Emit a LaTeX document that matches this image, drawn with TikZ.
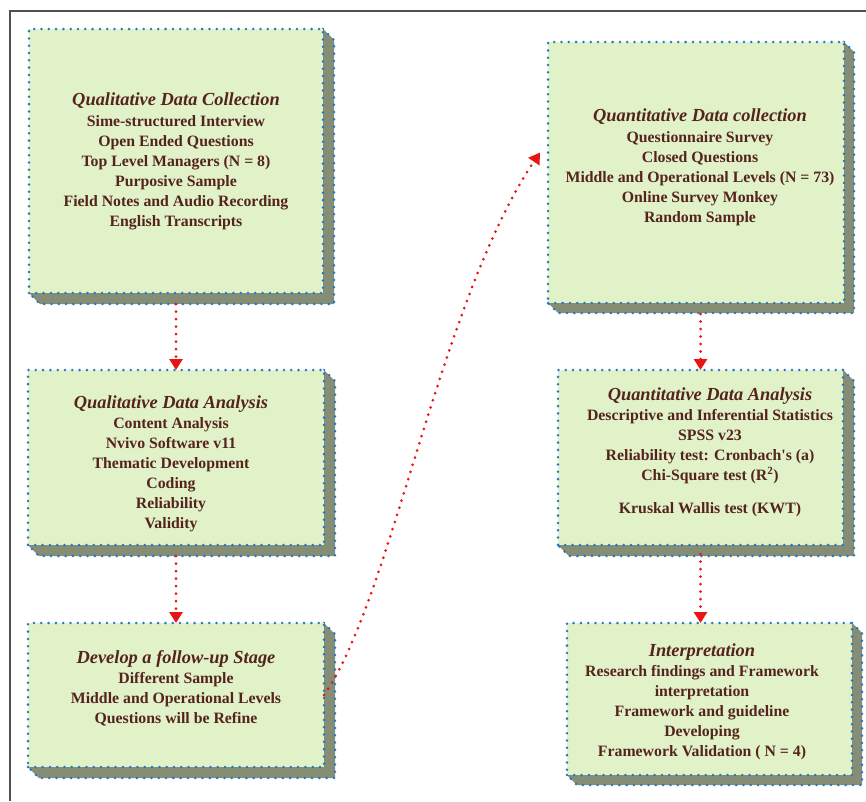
\documentclass[tikz,border=0pt]{standalone}
\usepackage{fontspec}
\setmainfont{Liberation Serif}
\usetikzlibrary{arrows.meta,backgrounds}
\definecolor{boxfill}{RGB}{225,242,201}
\definecolor{shadowc}{RGB}{134,141,117}
\definecolor{dotblue}{RGB}{30,120,200}
\definecolor{txt}{RGB}{85,35,30}
\definecolor{arr}{RGB}{235,20,20}
\definecolor{framec}{RGB}{80,80,80}
\tikzset{
 panel/.style={draw=dotblue, fill=boxfill, line width=2.8pt, dash pattern=on 0pt off 7.3pt, line cap=round, inner sep=0pt, outer sep=0pt},
 shade3d/.style={fill=shadowc, draw=dotblue, line width=2.8pt, dash pattern=on 0pt off 7.3pt, line cap=round},
 body/.style={text=txt, align=center, font=\fontsize{15.8}{20}\selectfont\bfseries},
 flow/.style={draw=arr, line width=3pt, dash pattern=on 0pt off 7.5pt, line cap=round, -{Triangle[width=13pt,length=11pt,fill=arr]}},
}
\newcommand{\ttl}[1]{{\fontsize{18.4}{20}\selectfont\bfseries\itshape #1}}
\newcommand{\boxshade}[2]{%
\begin{pgfonlayer}{background}
\path[shade3d] (#1.north east) -- ([shift={(#2,#2)}]#1.north east) -- ([shift={(#2,#2)}]#1.south east) -- ([shift={(#2,#2)}]#1.south west) -- (#1.south west) -- cycle;
\end{pgfonlayer}}
\begin{document}
\begin{tikzpicture}[x=1pt,y=-1pt]
\useasboundingbox (0,0) rectangle (866,801);
\draw[framec, line width=1.2pt] (866,11) -- (10,11) -- (10,801);

\node[panel, minimum width=294pt, minimum height=264pt] (b1) at (176,161) {};
\node[panel, minimum width=296pt, minimum height=261pt] (b2) at (696,172.5) {};
\node[panel, minimum width=296pt, minimum height=175pt] (b3) at (176,457.5) {};
\node[panel, minimum width=285pt, minimum height=175pt] (b4) at (700.5,457.5) {};
\node[panel, minimum width=296pt, minimum height=144pt] (b5) at (176,695) {};
\node[panel, minimum width=285pt, minimum height=152pt] (b6) at (709.5,699) {};
\boxshade{b1}{11}
\boxshade{b2}{10}
\boxshade{b3}{11}
\boxshade{b4}{11}
\boxshade{b5}{11}
\boxshade{b6}{10}

\node[body] (t1) at (176,161) {\ttl{Qualitative Data Collection}\\[1pt]Sime-structured Interview\\Open Ended Questions\\Top Level Managers (N = 8)\\Purposive Sample\\Field Notes and Audio Recording\\English Transcripts};
\node[body] (t2) at (700,167.5) {\ttl{Quantitative Data collection}\\[1pt]Questionnaire Survey\\Closed Questions\\Middle and Operational Levels (N = 73)\\Online Survey Monkey\\Random Sample};
\node[body] (t3) at (171,464) {\ttl{Qualitative Data Analysis}\\Content Analysis\\Nvivo Software v11\\Thematic Development\\Coding\\Reliability\\Validity};
\node[body] (t4) at (710,452) {\ttl{Quantitative Data Analysis}\\Descriptive and Inferential Statistics\\SPSS v23\\Reliability test: Cronbach\textquotesingle s (a)\\Chi-Square test (R\textsuperscript{2})\\[13pt]Kruskal Wallis test (KWT)};
\node[body] (t5) at (176,688) {\ttl{Develop a follow-up Stage}\\Different Sample\\Middle and Operational Levels\\Questions will be Refine};
\node[body] (t6) at (702,701.5) {\ttl{Interpretation}\\Research findings and Framework\\interpretation\\Framework and guideline\\Developing\\Framework Validation ( N = 4)};

\draw[flow, shorten <=11pt] (b1.south) -- (b3.north);
\draw[flow, shorten <=11pt] (b3.south) -- (b5.north);
\draw[flow, shorten <=11pt] (b2.south -| b4.north) -- (b4.north);
\draw[flow, shorten <=9pt] (b4.south) -- (b4.south |- b6.north);
\draw[flow] (b5.east) .. controls +(67,-95) and +(-100,148) .. ([xshift=-8pt,yshift=20pt]b2.west);
\end{tikzpicture}
\end{document}
